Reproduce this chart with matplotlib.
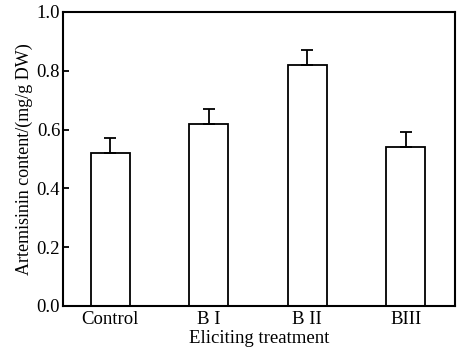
import matplotlib
matplotlib.use("Agg")
import matplotlib.pyplot as plt

categories = ["Control", "B I", "B II", "BIII"]
values = [0.52, 0.62, 0.82, 0.54]
errors = [0.05, 0.05, 0.05, 0.05]
yticks = [0.0, 0.2, 0.4, 0.6, 0.8, 1.0]

plt.rcParams['font.family'] = ['Liberation Serif', 'DejaVu Serif']
fig = plt.figure(figsize=(4.6, 3.5), dpi=100)
ax = fig.add_axes([0.137, 0.126, 0.852, 0.840])
x = list(range(len(categories)))
ax.bar(x, values, width=0.4, color='white', edgecolor='black', linewidth=1.3,
       yerr=[[0]*len(errors), errors], capsize=4,
       error_kw=dict(elinewidth=1.3, capthick=1.3, ecolor='black'))
ax.set_xlim(-0.48, 3.5)
ax.set_ylim(0, 1.0)
ax.set_yticks(yticks)
ax.set_yticklabels([f"{t:.1f}" for t in yticks])
ax.set_xticks(x)
ax.set_xticklabels(categories)
ax.tick_params(axis='y', direction='in', length=4, width=1.3, labelsize=13.5, pad=2)
ax.tick_params(axis='x', length=0, labelsize=13.5, pad=4)
for s in ax.spines.values():
    s.set_linewidth(1.5)
ax.set_xlabel("Eliciting treatment", fontsize=13.5, labelpad=1)
ax.set_ylabel("Artemisinin content/(mg/g DW)", fontsize=13, labelpad=3)
fig.savefig("out.png", dpi=100)
